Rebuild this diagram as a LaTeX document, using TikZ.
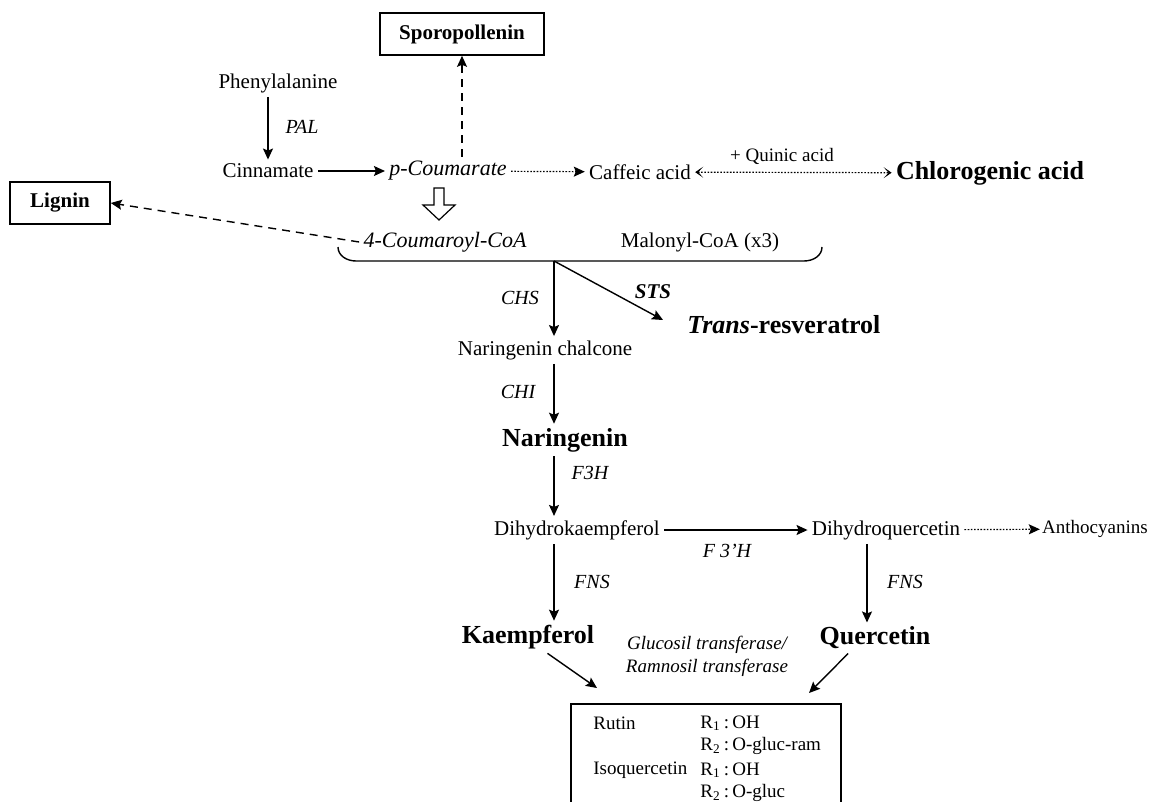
\documentclass[tikz,border=0pt]{standalone}
\usepackage{fontspec}
\setmainfont{Liberation Serif}
\usetikzlibrary{arrows.meta}

\begin{document}
\begin{tikzpicture}[x=0.5pt,y=-0.5pt,
  txt/.style={font=\fontsize{10.5}{12}\selectfont, inner sep=2pt},
  itx/.style={font=\fontsize{11}{12}\selectfont\itshape, inner sep=2pt},
  big/.style={font=\fontsize{13}{15}\selectfont\bfseries, inner sep=2pt},
  enz/.style={font=\fontsize{10}{12}\selectfont\itshape, inner sep=1pt},
  sml/.style={font=\fontsize{9.5}{11}\selectfont, inner sep=1pt},
  pbox/.style={draw, line width=0.8pt, font=\fontsize{10.5}{12}\selectfont\bfseries, minimum height=21pt},
  conv/.style={-{Stealth[length=5.5pt,width=5pt,inset=1pt]}, line width=0.7pt},
  dashconv/.style={conv, dash pattern=on 4pt off 3pt},
  dotconv/.style={conv, line width=0.6pt, dash pattern=on 0.8pt off 0.8pt},
  chev/.style={line width=0.6pt, dash pattern=on 0.8pt off 0.8pt,
    {Stealth[length=4pt,width=5.5pt,inset=2.5pt]}-{Stealth[length=4pt,width=5.5pt,inset=2.5pt]}}]
\useasboundingbox (0,0) rectangle (1150,802);

%Compounds
\node[pbox, minimum width=82pt] (spor) at (462,34) {Sporopollenin};
\node[txt] (phen) at (278,83) {Phenylalanine};
\node[txt] (cinn) at (268,171) {Cinnamate};
\node[itx] (pcou) at (448,171) {p-Coumarate};
\node[txt] (caff) at (640,172) {Caffeic acid};
\node[big] (chlor) at (990,173) {Chlorogenic acid};
\node[sml] (quin) at (782,156) {+ Quinic acid};
\node[pbox, minimum width=50pt] (lign) at (60,203) {Lignin};
\node[itx] (coum) at (445,242) {4-Coumaroyl-CoA};
\node[txt] (malo) at (700,242) {Malonyl-CoA (x3)};
\node[big] (trans) at (683,325) [anchor=west] {\textit{Trans}-resveratrol};
\node[txt] (nchal) at (545,350) {Naringenin chalcone};
\node[big] (nar) at (565,440) {Naringenin};
\node[txt] (dhk) at (577,530) {Dihydrokaempferol};
\node[txt] (dhq) at (886,530) {Dihydroquercetin};
\node[sml] (antho) at (1095,529) {Anthocyanins};
\node[big] (kaem) at (528,637) {Kaempferol};
\node[big] (quer) at (875,638) {Quercetin};

%Brace under the CoA esters
\coordinate (bl) at (338,247);
\coordinate (br) at (822,247);
\coordinate (bj) at (554,261);
\draw[line width=0.7pt] (bl) to[out=-90,in=180] (356,261) -- (804,261) to[out=0,in=-90] (br);

%Hollow arrow
\draw[line width=0.6pt] (434,188) -- (444,188) -- (444,205) -- (455,205) -- (439,220)
  -- (423,205) -- (434,205) -- cycle;

%Arrows
\draw[conv] (cinn.north |- phen.south) -- (cinn.north);
\draw[conv] (cinn) -- (pcou);
\draw[dashconv] (pcou.north -| spor) -- (spor.south);
\draw[dotconv] (pcou) -- (caff);
\draw[chev] (caff) -- (chlor);
\draw[dashconv] (coum.west) -- (lign.east);
\coordinate (stsend) at (663,320);
\draw[conv] (bj) -- (nchal.north -| bj);
\draw[conv] (bj) -- (stsend);
\draw[conv] (nchal.south -| bj) -- (nar.north -| bj);
\draw[conv] (nar.south -| bj) -- (dhk.north -| bj);
\draw[conv] (dhk) -- (dhq);
\draw[dotconv] (dhq) -- (antho);
\draw[conv] (dhk.south -| bj) -- (kaem.north -| bj);
\draw[conv] (dhq.south -| 867,0) -- (quer.north -| 867,0);
\coordinate (kin) at (597,688);
\coordinate (qin) at (809,693);
\draw[conv] (kaem.-40) -- (kin);
\draw[conv] (quer.210) -- (qin);

%Enzymes
\node[enz] (pal) at (302,127) {PAL};
\node[enz] (chs) at (520,298) {CHS};
\node[enz, font=\fontsize{10.5}{12}\selectfont\bfseries\itshape] (sts) at (653,292) {STS};
\node[enz] (chi) at (518,392) {CHI};
\node[enz] (f3h) at (590,473) {F3H};
\node[enz] (f3ph) at (727,551) {F 3'H};
\node[enz] (fns1) at (592,582) {FNS};
\node[enz] (fns2) at (905,582) {FNS};
\node[enz, font=\fontsize{9.5}{11}\selectfont\itshape] (gt) at (707,645) {Glucosil transferase/};
\node[enz, font=\fontsize{9.5}{11}\selectfont\itshape] (rt) at (707,668) {Ramnosil transferase};

%Glycosides
\draw[line width=0.8pt] (571,812) -- (571,704) -- (841,704) -- (841,812);
\node[sml, anchor=west] (rut) at (591,723) {Rutin};
\node[sml, anchor=west] (r1a) at (698,723) {R\textsubscript{1}\,:\,OH};
\node[sml, anchor=west] (r2a) at (698,746) {R\textsubscript{2}\,:\,O-gluc-ram};
\node[sml, anchor=west] (iso) at (591,770) {Isoquercetin};
\node[sml, anchor=west] (r1b) at (698,770) {R\textsubscript{1}\,:\,OH};
\node[sml, anchor=west] (r2b) at (698,793) {R\textsubscript{2}\,:\,O-gluc};
\end{tikzpicture}
\end{document}
